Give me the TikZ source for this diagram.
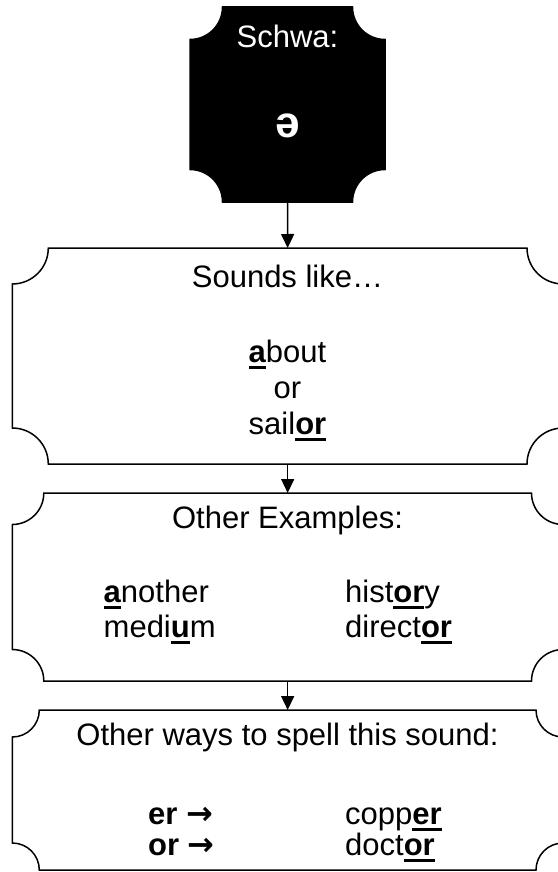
\documentclass[tikz,border=0pt]{standalone}
\usepackage{fontspec}
\setmainfont{Liberation Sans}
\newfontfamily\arrowfont{DejaVu Sans}
\usetikzlibrary{arrows.meta}

% bold text with a heavy underline just below the baseline
\newsavebox\ulbbox
\newcommand\ulb[1]{\sbox\ulbbox{\bfseries #1}\rlap{\rule[-6.5pt]{\wd\ulbbox}{3pt}}\usebox\ulbbox}
% heavy right arrow used in the spelling list
\newcommand\rarrow{{\arrowfont\bfseries\fontsize{32}{32}\selectfont →}}

% plaque outline: rectangle with concave quarter-circle corners
% #1 name, #2 x1, #3 y1, #4 x2, #5 y2, #6 corner radius, #7 extra style
\newcommand\plaquenode[7]{%
  \path[plaque,#7] ({#2+#6},#3) -- ({#4-#6},#3)
    arc[start angle=180,end angle=90,radius=#6] -- (#4,{#5-#6})
    arc[start angle=270,end angle=180,radius=#6] -- ({#2+#6},#5)
    arc[start angle=0,end angle=-90,radius=#6] -- (#2,{#3+#6})
    arc[start angle=90,end angle=0,radius=#6] -- cycle;
  \node[frame,minimum width={(#4-#2)*1pt},minimum height={(#5-#3)*1pt}]
    (#1) at ({(#2+#4)/2},{(#3+#5)/2}) {};%
}

\begin{document}
\begin{tikzpicture}[x=1pt,y=-1pt,
  plaque/.style={draw=black,line width=1.5pt,line join=miter},
  frame/.style={inner sep=0pt,outer sep=0pt},
  txt/.style={anchor=base,inner sep=0pt,font=\fontsize{31}{35}\selectfont},
  col/.style={txt,anchor=base west},
  link/.style={draw=black,line width=1.5pt,-{Triangle[width=13pt,length=14pt]}}]
\useasboundingbox (0,0) rectangle (557,872);

% the four plaques
\plaquenode{schwa}{190}{7}{385}{202}{32.5}{fill=black}
\plaquenode{sounds}{12.3}{248}{563}{464}{36}{}
\plaquenode{examples}{12.3}{493}{563}{681}{31.5}{}
\plaquenode{spell}{12.3}{710}{563}{870}{27}{}

% title plaque
\node[txt,text=white] (schwatitle) at (287.5,48) {Schwa:};
\node[txt,text=white,font=\fontsize{44}{46}\selectfont\bfseries] (schwasym) at (287.5,137) {ə};

% sounds like
\node[txt] (soundstitle) at (287.5,287) {Sounds like…};
\node[txt] (about) at (287.5,362) {\ulb{a}bout};
\node[txt] (orword) at (287.5,398) {or};
\node[txt] (sailor) at (287.5,434) {sail\ulb{or}};

% other examples
\node[txt] (examplestitle) at (287.5,528) {Other Examples:};
\node[col] (another) at (103.5,602) {\ulb{a}nother};
\node[col] (medium) at (103.5,637) {medi\ulb{u}m};
\node[col] (history) at (345,602) {hist\ulb{or}y};
\node[col] (director) at (345,637) {direct\ulb{or}};

% other spellings
\node[txt] (spelltitle) at (287.5,745) {Other ways to spell this sound:};
\node[col] (er) at (148,824) {\bfseries er \rarrow};
\node[col] (or) at (148,855) {\bfseries or \rarrow};
\node[col] (copper) at (345,824) {copp\ulb{er}};
\node[col] (doctor) at (345,855) {doct\ulb{or}};

% connectors
\draw[link] (schwa.south) -- (sounds.north);
\draw[link] (sounds.south) -- (examples.north);
\draw[link] (examples.south) -- (spell.north);
\end{tikzpicture}
\end{document}
